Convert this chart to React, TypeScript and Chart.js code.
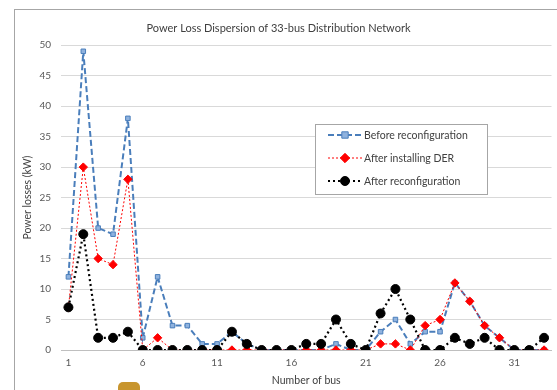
import React, { useEffect, useRef } from "react";
import { Chart, registerables } from "chart.js";

Chart.register(...registerables);

const buses: string[] = Array.from({ length: 33 }, (_, i) => String(i + 1));
const beforeReconfig: number[] = [12, 49, 20, 19, 38, 2, 12, 4, 4, 1, 1, 3, 1, 0, 0, 0, 0, 0, 1, 0, 0, 3, 5, 1, 3, 3, 11, 8, 4, 2, 0, 0, 0];
const afterDER: number[] = [7, 30, 15, 14, 28, 0, 2, 0, 0, 0, 0, 0, 0, 0, 0, 0, 0, 0, 0, 0, 0, 1, 1, 0, 4, 5, 11, 8, 4, 2, 0, 0, 0];
const afterReconfig: number[] = [7, 19, 2, 2, 3, 0, 0, 0, 0, 0, 0, 3, 1, 0, 0, 0, 1, 1, 5, 1, 0, 6, 10, 5, 0, 0, 2, 1, 2, 0, 0, 0, 2];
const seriesNames: string[] = ["Before reconfiguration", "After installing DER", "After reconfiguration"];
const yTicks: number[] = [0, 5, 10, 15, 20, 25, 30, 35, 40, 45, 50];

const FONT = "Lato, 'Open Sans', sans-serif";
const TEXT = "#595959";
const BLUE = "#4a7ebb";
const BLUE_FILL = "#8fb2de";
const RED = "#ff0000";
const BLACK = "#000000";

const styles = [
  { color: BLUE, fill: BLUE_FILL, dash: [6, 3], width: 2, point: "rect", radius: 3.2 },
  { color: RED, fill: RED, dash: [2, 2], width: 1, point: "rectRot", radius: 4.2 },
  { color: BLACK, fill: BLACK, dash: [2, 3], width: 2.2, point: "circle", radius: 4.5 },
];

const legendPlugin = {
  id: "customLegend",
  afterDraw(chart: any) {
    const ctx = chart.ctx as CanvasRenderingContext2D;
    ctx.save();
    const bx = 315.5, by = 124.5, bw = 172, bh = 70;
    ctx.fillStyle = "#ffffff";
    ctx.fillRect(bx, by, bw, bh);
    ctx.strokeStyle = "#a6a6a6";
    ctx.lineWidth = 1;
    ctx.setLineDash([]);
    ctx.strokeRect(bx, by, bw, bh);
    const ys = [135, 158, 181];
    seriesNames.forEach((name, i) => {
      const s = styles[i];
      const y = ys[i];
      ctx.strokeStyle = s.color;
      ctx.lineWidth = s.width;
      ctx.setLineDash(s.dash);
      ctx.beginPath();
      ctx.moveTo(328, y);
      ctx.lineTo(362, y);
      ctx.stroke();
      ctx.setLineDash([]);
      ctx.fillStyle = s.fill;
      ctx.strokeStyle = s.color;
      ctx.lineWidth = 1;
      const cx = 345;
      const r = s.radius;
      ctx.beginPath();
      if (s.point === "rect") {
        ctx.rect(cx - r, y - r, 2 * r, 2 * r);
      } else if (s.point === "rectRot") {
        ctx.moveTo(cx, y - r - 0.5);
        ctx.lineTo(cx + r + 0.5, y);
        ctx.lineTo(cx, y + r + 0.5);
        ctx.lineTo(cx - r - 0.5, y);
        ctx.closePath();
      } else {
        ctx.arc(cx, y, r, 0, Math.PI * 2);
      }
      ctx.fill();
      ctx.stroke();
      ctx.fillStyle = "#404040";
      ctx.font = `10.5px ${FONT}`;
      ctx.textAlign = "left";
      ctx.textBaseline = "middle";
      ctx.fillText(name, 364, y + 0.5);
    });
    ctx.restore();
  },
};

export default function App() {
  const ref = useRef<HTMLCanvasElement>(null);
  useEffect(() => {
    if (!ref.current) return;
    const data = [beforeReconfig, afterDER, afterReconfig];
    const chart = new Chart(ref.current, {
      type: "line",
      data: {
        labels: buses,
        datasets: data.map((d, i) => ({
          label: seriesNames[i],
          data: d,
          borderColor: styles[i].color,
          backgroundColor: styles[i].fill,
          borderWidth: styles[i].width,
          borderDash: styles[i].dash,
          pointStyle: styles[i].point as any,
          pointRadius: styles[i].radius,
          pointBorderColor: styles[i].color,
          pointBackgroundColor: styles[i].fill,
          pointBorderWidth: 1,
          tension: 0,
          fill: false,
          order: 2 - i,
        })),
      },
      options: {
        animation: false,
        responsive: false,
        maintainAspectRatio: false,
        layout: { padding: { top: 0, left: 0, right: 0, bottom: 0 } },
        plugins: {
          legend: { display: false },
          tooltip: { enabled: false },
          title: {
            display: true,
            text: "Power Loss Dispersion of 33-bus Distribution Network",
            color: "#404040",
            font: { family: FONT, size: 11, weight: "normal" },
            padding: { top: 22, bottom: 10 },
          },
        },
        scales: {
          x: {
            type: "category",
            offset: true,
            grid: { display: false, drawTicks: false },
            border: { display: true, color: "#bfbfbf", width: 1 },
            ticks: {
              color: TEXT,
              font: { family: FONT, size: 10 },
              padding: 7,
              autoSkip: false,
              maxRotation: 0,
              callback: (_v: any, idx: number) => (idx % 5 === 0 ? buses[idx] : ""),
            },
            title: {
              display: true,
              text: "Number of bus",
              color: "#404040",
              font: { family: FONT, size: 10.5 },
              padding: { top: 0, bottom: 3 },
            },
            afterFit: (s: any) => {
              s.height = 40;
            },
          },
          y: {
            min: 0,
            max: 50,
            afterBuildTicks: (s: any) => {
              s.ticks = yTicks.map((v) => ({ value: v }));
            },
            grid: { color: "#d9d9d9", lineWidth: 1, drawTicks: false },
            border: { display: false },
            ticks: {
              color: TEXT,
              font: { family: FONT, size: 10 },
              padding: 10,
            },
            title: {
              display: true,
              text: "Power losses (kW)",
              color: "#404040",
              font: { family: FONT, size: 10.5 },
              padding: { top: 21, bottom: 0 },
            },
            afterFit: (s: any) => {
              s.width = 61;
            },
          },
        },
      },
      plugins: [legendPlugin],
    });
    return () => chart.destroy();
  }, []);
  return (
    <div style={{ position: "fixed", left: 0, top: 0, width: 557, height: 390, background: "#ffffff", overflow: "hidden" }}>
      <div style={{ position: "absolute", left: 14, top: 9, width: 600, height: 450, border: "1.5px solid #a6a6a6", boxSizing: "border-box" }} />
      <canvas ref={ref} width={557} height={390} style={{ position: "absolute", left: 0, top: 0, width: 557, height: 390 }} />
      <div style={{ position: "absolute", left: 118, top: 382, width: 22, height: 14, background: "#c8952e", borderRadius: 5 }} />
    </div>
  );
}
